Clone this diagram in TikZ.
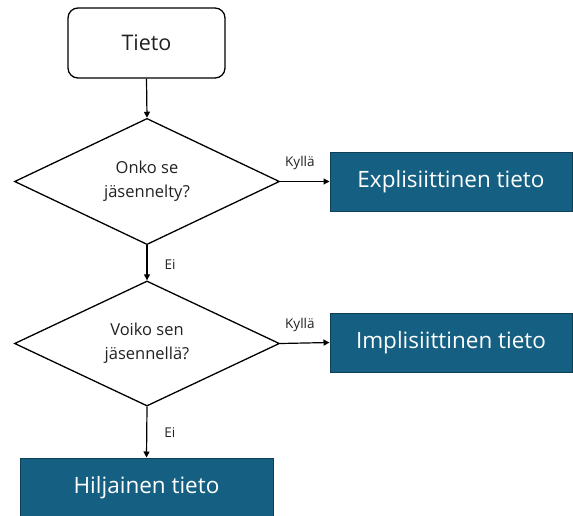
\documentclass[tikz,border=0pt]{standalone}
\usepackage{fontspec}
\setmainfont{Open Sans}
\usetikzlibrary{shapes.geometric,arrows.meta}
\definecolor{boxblue}{HTML}{156082}
\definecolor{boxedge}{HTML}{0E3F57}
\definecolor{inktext}{HTML}{222222}
\tikzset{
  startbox/.style={draw=black, line width=1.3pt, rounded corners=10pt, fill=white,
    minimum width=157pt, minimum height=70pt, inner sep=0pt, font=\fontsize{21.5}{24}\selectfont, text=inktext},
  question/.style={draw=black, line width=1.3pt, diamond, fill=white, inner sep=0pt,
    minimum width=265pt, minimum height=121pt, align=center,
    font=\fontsize{16.5}{24}\selectfont, text=inktext},
  result/.style={draw=boxedge, line width=1pt, fill=boxblue, text=white, inner sep=0pt,
    font=\fontsize{22.5}{24}\selectfont},
  flow/.style={line width=1.2pt, -{Triangle[length=6pt,width=6pt]}},
  answer/.style={font=\fontsize{13.5}{15}\selectfont, text=inktext, inner sep=0pt}
}
\begin{document}
\begin{tikzpicture}[x=1pt,y=-1pt]
  \useasboundingbox (0,0) rectangle (573,515);
  \node[startbox] (tieto) at (146.5,43) {Tieto};
  \node[question] (q1) at (147,181.5) {Onko se\\jäsennelty?};
  \node[question] (q2) at (147,343.5) {Voiko sen\\jäsennellä?};
  \node[result, minimum width=242pt, minimum height=59pt] (expl) at (451,181.5) {Explisiittinen tieto};
  \node[result, minimum width=242pt, minimum height=59pt] (impl) at (451,342.5) {Implisiittinen tieto};
  \node[result, minimum width=253pt, minimum height=60pt] (hilj) at (146.5,488) {Hiljainen tieto};

  \draw[flow] (tieto.south) -- (q1.north);
  \draw[flow] (q1.east) -- (expl.west) node[answer, pos=0.4, above=11pt] (k1) {Kyllä};
  \draw[flow] (q1.south) -- (q2.north) node[answer, pos=0.55, right=17pt] (e1) {Ei};
  \draw[flow] (q2.east) -- (impl.west) node[answer, pos=0.4, above=11pt] (k2) {Kyllä};
  \draw[flow] (q2.south) -- (hilj.north) node[answer, pos=0.5, right=17pt] (e2) {Ei};
\end{tikzpicture}
\end{document}
